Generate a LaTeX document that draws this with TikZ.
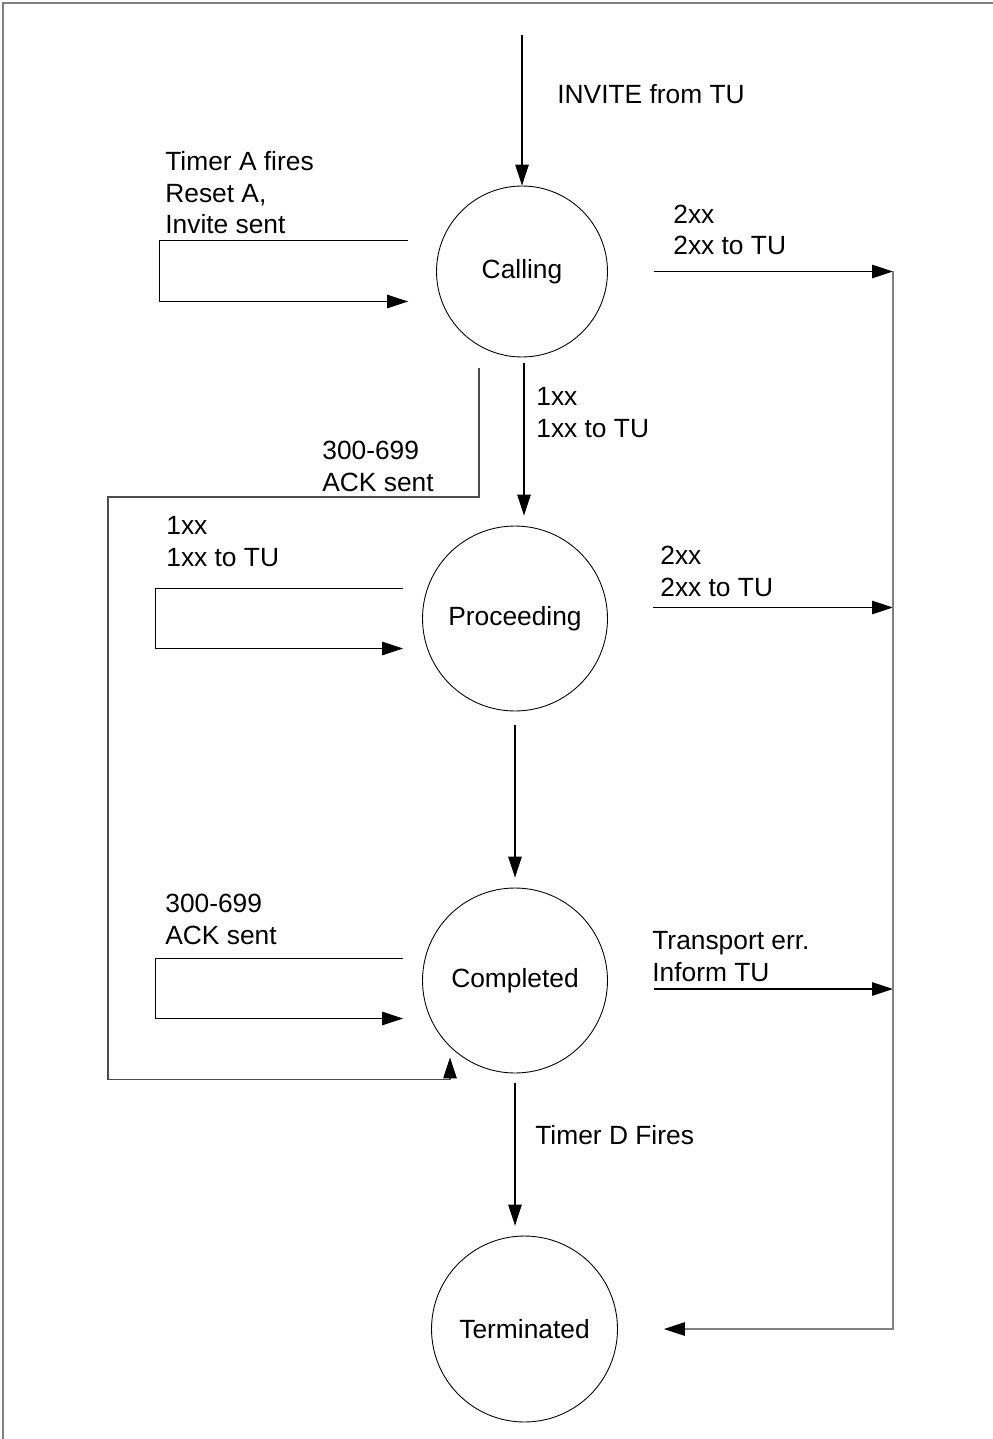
\documentclass[tikz,border=0pt]{standalone}
\usepackage{fontspec}
\setmainfont{Liberation Sans}
\usetikzlibrary{arrows.meta,calc}

\begin{document}
\begin{tikzpicture}[x=0.02cm, y=-0.02cm,
    >={Triangle[length=0.42cm,width=0.27cm,color=black]},
    every node/.style={font=\fontsize{15}{18.2}\selectfont},
    state/.style={circle, draw, line width=0.5pt, inner sep=0pt},
    trans/.style={line width=0.6pt, ->},
    lbl/.style={anchor=base west, align=left, inner sep=0pt},
    bus/.style={line width=0.8pt, gray}]
    \useasboundingbox (0,0) rectangle (993,1439);
    % Cadre
    \draw[gray, line width=0.8pt] (3,1439) -- (3,3) -- (993,3);

    % Etats
    \node[state, minimum size=3.42cm] (calling) at (522,271.5) {Calling};
    \node[state, minimum size=3.7cm] (proceeding) at (515,618.5) {Proceeding};
    \node[state, minimum size=3.7cm] (completed) at (515,980.5) {Completed};
    \node[state, minimum size=3.72cm] (terminated) at (524.5,1329) {Terminated};

    % Points libres
    \coordinate (invite) at (522,35);
    \coordinate (bustop) at (893,271);
    \coordinate (busbot) at (893,1329);
    \coordinate (ackleft) at (108,497);
    \coordinate (ackback) at ($(completed.south)+(-65,6)$);

    % Transitions verticales
    \draw[trans] (invite) -- (calling.north);
    \draw[trans, shorten >=0.2cm] ($(calling.south)+(2,6)$) -- ($(calling.south |- proceeding.north)+(2,0)$);
    \draw[trans, shorten >=0.2cm] ($(proceeding.south)+(0,14)$) -- (proceeding.south |- completed.north);
    \draw[trans, shorten >=0.2cm] ($(completed.south)+(0,10)$) -- (completed.south |- terminated.north);

    % Boucles
    \draw[trans] ($(calling.west)+(-28,-31)$) -- ++(-249,0) -- ++(0,61) -- ++(249,0);
    \draw[trans] ($(proceeding.west)+(-19,-30)$) -- ++(-248,0) -- ++(0,60) -- ++(248,0);
    \draw[trans] ($(completed.west)+(-19,-22)$) -- ++(-248,0) -- ++(0,60) -- ++(248,0);

    % 300-699 depuis Calling
    \draw[trans, black!70] ($(calling.south)+(-43,11)$) |- (ackleft) |- (ackback) -- ++(0,-22);

    % Vers le bus de droite
    \draw[trans] ($(calling.east)+(46,0)$) -- (calling.east -| bustop);
    \draw[trans] ($(proceeding.east)+(45,-11)$) -- ($(proceeding.east -| bustop)+(0,-11)$);
    \draw[trans] ($(completed.east)+(46,8.5)$) -- ($(completed.east -| bustop)+(0,8.5)$);
    \draw[bus, ->, shorten >=0.92cm] (bustop) -- (busbot) -- (busbot -| terminated.east);

    % Etiquettes (ligne de base de la derniere ligne)
    \node[lbl] (invitelbl) at (557,104) {INVITE from TU};
    \node[lbl] (timeralbl) at (165,234) {Timer A fires\\Reset A,\\Invite sent};
    \node[lbl] (okcalllbl) at (673,255) {2xx\\2xx to TU};
    \node[lbl] (provlbl) at (536,437) {1xx\\1xx to TU};
    \node[lbl] (failcalllbl) at (322,491) {300-699\\ACK sent};
    \node[lbl] (provlooplbl) at (166,566) {1xx\\1xx to TU};
    \node[lbl] (okproclbl) at (660,596) {2xx\\2xx to TU};
    \node[lbl] (acklooplbl) at (165,944) {300-699\\ACK sent};
    \node[lbl] (errlbl) at (652,981) {Transport err.\\Inform TU};
    \node[lbl] (timerdlbl) at (535,1144) {Timer D Fires};
\end{tikzpicture}
\end{document}
